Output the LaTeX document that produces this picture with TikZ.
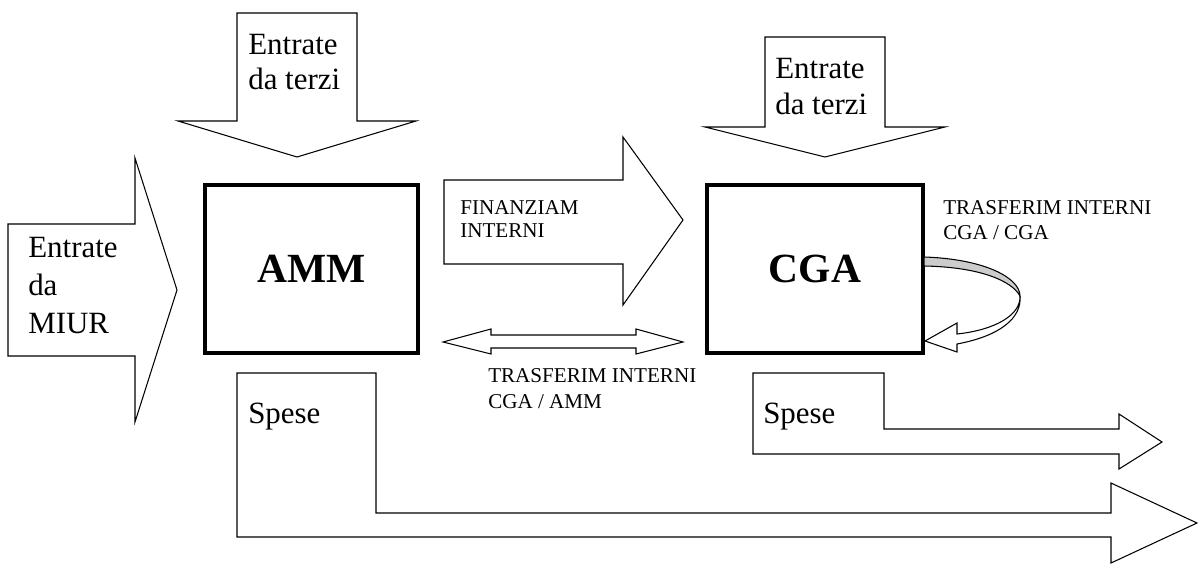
\documentclass[tikz,border=0pt]{standalone}
\usepackage{fontspec}
\setmainfont{Liberation Serif}
\usepackage{xcolor}
\usepackage{tikz}
\usetikzlibrary{positioning}

\begin{document}
\begin{tikzpicture}[x=0.025cm, y=-0.025cm,
  blockarrow/.style={draw=black, fill=white, line width=0.75pt, line join=miter},
  unitbox/.style={draw=black, line width=2.6pt, minimum height=4.2cm, inner sep=0pt,
    font=\fontsize{29.5}{32}\selectfont\bfseries},
  bigtext/.style={font=\fontsize{22}{25}\selectfont, align=left, inner sep=0pt, anchor=base west},
  smalltext/.style={font=\fontsize{15}{17.8}\selectfont, align=left, inner sep=0pt, anchor=base west}]
  \useasboundingbox (0,0) rectangle (1198,564);

  % block arrows
  \draw[blockarrow] (8,224) -- (135,224) -- (135,158) -- (177,290) -- (135,422) -- (135,356) -- (8,356) -- cycle;
  \draw[blockarrow] (237,13) -- (357,13) -- (357,121) -- (416,121) -- (297,157) -- (178,121) -- (237,121) -- cycle;
  \draw[blockarrow] (765,37) -- (885,37) -- (885,127) -- (945,127) -- (825,157) -- (705,127) -- (765,127) -- cycle;
  \draw[blockarrow] (444,180) -- (623,180) -- (623,137) -- (683,220) -- (623,305) -- (623,264) -- (444,264) -- cycle;
  \draw[blockarrow] (443,342) -- (491,329) -- (491,335) -- (636,335) -- (636,329) -- (683,342)
    -- (636,354) -- (636,348) -- (491,348) -- (491,354) -- cycle;
  \draw[blockarrow] (237,373) -- (376,373) -- (376,513) -- (1111,513) -- (1111,483) -- (1197,523)
    -- (1111,563) -- (1111,537) -- (237,537) -- cycle;
  \draw[blockarrow] (753,373) -- (884,373) -- (884,429) -- (1119,429) -- (1119,414) -- (1162,442)
    -- (1119,469) -- (1119,454) -- (753,454) -- cycle;

  % units
  \node (amm) [unitbox, minimum width=5.325cm] at (311.5,269) {AMM};
  \node (cga) [unitbox, minimum width=5.4cm] at (815,269) {CGA};

  % self loop on CGA
  \filldraw[fill=gray!40, line width=0.75pt] (924,257) .. controls (985,259) and (1020,278) .. (1020,296)
    .. controls (1012,281) and (980,267) .. (924,266) -- cycle;
  \filldraw[fill=white, line width=0.75pt] (1020,296) .. controls (1021,315) and (995,330) .. (957,334)
    -- (957,323) -- (925,341) -- (957,352) -- (957,344) .. controls (1000,336) and (1022,318) .. (1020,296);

  % labels (anchored at the last line)
  \node (miur) [bigtext, font=\fontsize{22}{27}\selectfont] at (28,333) {Entrate\\da\\MIUR};
  \node (terzia) [bigtext] at (248,90) {Entrate\\da terzi};
  \node (terzib) [bigtext, font=\fontsize{22}{26}\selectfont] at (775,115) {Entrate\\da terzi};
  \node (spesea) [bigtext] at (248,423) {Spese};
  \node (speseb) [bigtext] at (763,423) {Spese};
  \node (finanz) [smalltext, font=\fontsize{15}{16.5}\selectfont] at (460,238) {FINANZIAM\\INTERNI};
  \node (trasfa) [smalltext] at (488,408) {TRASFERIM INTERNI\\CGA / AMM};
  \node (trasfb) [smalltext] at (943,240) {TRASFERIM INTERNI\\CGA / CGA};

\end{tikzpicture}
\end{document}
